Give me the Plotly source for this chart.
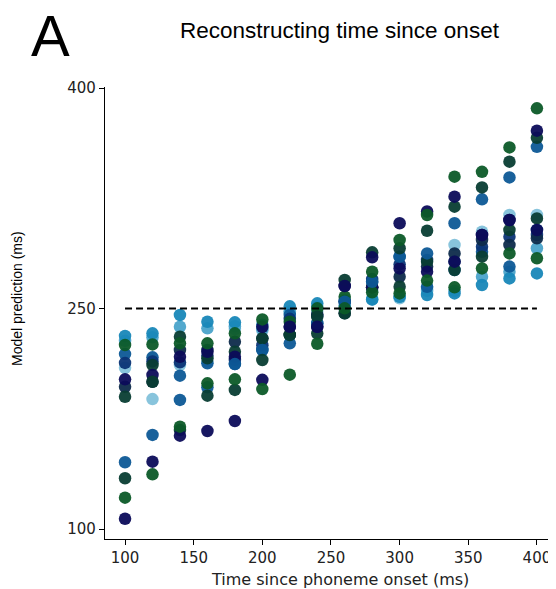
import plotly.graph_objects as go

# x positions (ms since phoneme onset)
time_ms = [100, 120, 140, 160, 180, 200, 220, 240, 260, 280, 300, 320, 340, 360, 380, 400]

# model predictions per series (ms)
navy_steep = [107, 145.8, 163.5, 166.7, 173.5, 201.5, 237.6, 237.6, 265.3, 284.8, 308, 316, 326.1, 300, 310.2, 371]
green_steep = [121.3, 137.2, 169.6, 199.1, 201.8, 195.2, 205, 226, 250.1, 275, 296.6, 313.6, 339.7, 343, 359.6, 386.2]
dteal_steep = [134.5, 200.2, 167.3, 190.7, 194.6, 215, 232, 244.4, 269.4, 288.2, 291, 302.9, 319.3, 332.4, 349.9, 366.2]
blue_steep = [145.4, 164, 187.8, 196.4, 212.2, 221.8, 226.3, 240, 254.6, 268.2, 285.3, 287.5, 308, 324.3, 339.2, 360]
teal_flat = [231.3, 233.1, 245.6, 241, 240.6, 239, 251.5, 253.5, 252, 256.3, 258, 259.2, 260.3, 266, 270.5, 273.9]
green_flat = [225.2, 225.6, 226.3, 226.3, 233.1, 242.6, 241, 250.1, 258, 261, 260.3, 269, 264.4, 277.3, 287.5, 284.2]
light_flat = [209.7, 188.4, 211.6, 214, 236, 235, 248, 248, 256, 262, 256.9, 264, 293.2, 302.2, 313.6, 313.6]
navy_flat = [201.8, 204.8, 217.2, 220.6, 217.2, 237.6, 237.6, 237.6, 265.3, 264.4, 277.3, 275, 281.9, 300, 310.2, 303.4]
dark_flat = [196.8, 200.2, 221.8, 221.8, 227.4, 229.7, 232, 246, 246.7, 264.4, 271.6, 278.5, 287.5, 296.6, 293.2, 297.8]
dteal_flat = [190, 211.6, 230.8, 216.1, 220.6, 229.7, 232, 233, 246.7, 264.4, 264.8, 281.9, 276.2, 285.3, 303.4, 311.3]
blue_flat = [219, 216.8, 204.3, 212.7, 212.2, 221.8, 245.6, 240, 254.6, 268.2, 285.3, 264.8, 276.2, 288.6, 278.5, 303.4]
mteal_flat = [228, 230.4, 237.6, 236.5, 238, 236, 248, 251, 250, 256, 258, 262, 262, 271.6, 275, 291]
dblue_flat = [213, 214, 213.4, 218, 215, 225, 243, 245, 255, 270, 280, 283, 282, 292, 298.9, 300]

series = [
    (light_flat, "#82c1da"),
    (mteal_flat, "#4aa3ca"),
    (teal_flat, "#1887b8"),
    (blue_flat, "#0d5896"),
    (dblue_flat, "#0b3475"),
    (dark_flat, "#0e2b4b"),
    (dteal_flat, "#083d33"),
    (navy_flat, "#0c0c5a"),
    (green_flat, "#0c5a28"),
    (blue_steep, "#0d5896"),
    (dteal_steep, "#083d33"),
    (navy_steep, "#0c0c5a"),
    (green_steep, "#0c5a28"),
]

chance_x = [100, 400]
chance_y = [250, 250]

fig = go.Figure()
for vals, col in series:
    fig.add_trace(go.Scatter(
        x=time_ms, y=vals, mode="markers",
        marker=dict(size=12.5, color=col, opacity=0.95, line=dict(width=0)),
        showlegend=False, hoverinfo="skip"))

fig.add_trace(go.Scatter(
    x=chance_x, y=chance_y, mode="lines",
    line=dict(color="black", width=1.8, dash="7px,4px"),
    showlegend=False, hoverinfo="skip"))

tick_font = dict(family="DejaVu Sans", size=15, color="#222")

fig.update_layout(
    width=548, height=581,
    margin=dict(l=97, r=0, t=79, b=50),
    paper_bgcolor="white", plot_bgcolor="white",
    xaxis=dict(
        range=[85.4, 413.9], tickvals=[100, 150, 200, 250, 300, 350, 400],
        showgrid=False, zeroline=False, showline=True, linecolor="black", linewidth=1.3,
        ticks="outside", ticklen=5, tickwidth=1.2, tickcolor="black",
        tickfont=tick_font,
    ),
    yaxis=dict(
        range=[93.2, 400.7], tickvals=[100, 250, 400],
        showgrid=False, zeroline=False, showline=True, linecolor="black", linewidth=1.3,
        ticks="outside", ticklen=5, tickwidth=1.2, tickcolor="black",
        tickfont=tick_font,
    ),
    annotations=[
        dict(text="A", xref="paper", yref="paper", x=0, xshift=-55, y=1.0, yshift=52,
             xanchor="center", yanchor="middle", showarrow=False,
             font=dict(family="Liberation Sans", size=58, color="black")),
        dict(text="Reconstructing time since onset", xref="paper", yref="paper",
             x=0, xshift=235, y=1.0, yshift=57, xanchor="center", yanchor="middle", showarrow=False,
             font=dict(family="Liberation Sans", size=22.5, color="black")),
        dict(text="Model prediction (ms)", xref="paper", yref="paper",
             x=0, xshift=-88, y=0.531, xanchor="center", yanchor="middle", textangle=-90,
             showarrow=False, font=dict(family="Liberation Sans", size=14, color="black")),
        dict(text="Time since phoneme onset (ms)", xref="paper", yref="paper",
             x=0, xshift=235, y=0, yshift=-40, xanchor="center", yanchor="middle",
             showarrow=False, font=dict(family="DejaVu Sans", size=16, color="#222")),
    ],
)

fig.write_html("out.html")
